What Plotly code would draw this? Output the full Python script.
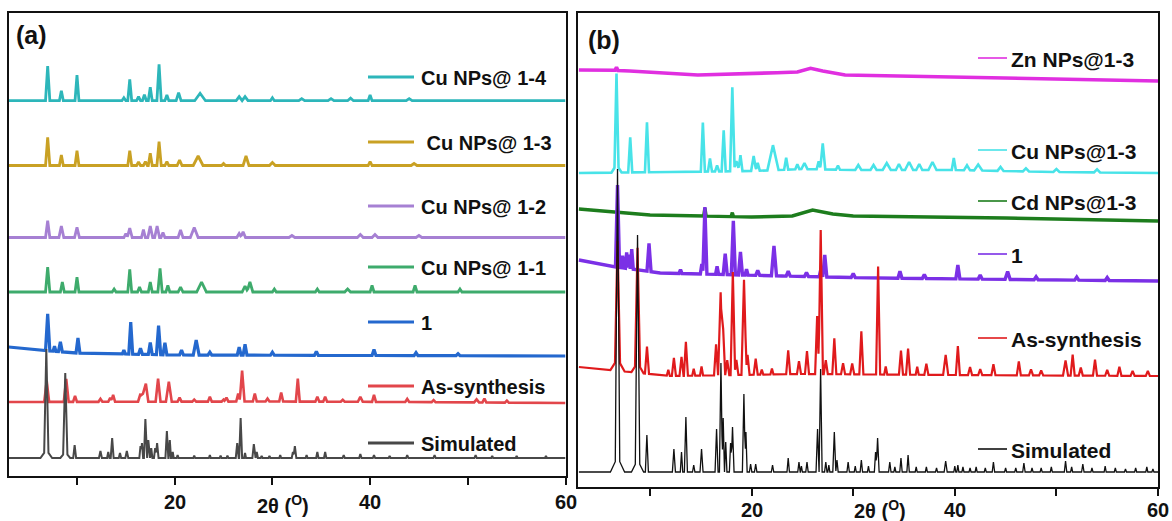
import numpy as np
import plotly.graph_objects as go

W, H = 1172, 521

# ---------------- DATA (2-theta in degrees, intensity in arbitrary units) ----------------
# Each peak: (2theta, height above local baseline, half width)
# Panel (a)
sim_a_peaks = [(6.86, 101, 0.22), (6.86, 8, 0.6), (8.8, 79, 0.22), (8.8, 6, 0.5), (9.76, 13, 0.15),
               (12.4, 7, 0.15), (13.2, 6, 0.12), (13.6, 20, 0.15), (14.4, 5, 0.12), (15.1, 7, 0.15),
               (16.5, 12, 0.12), (16.65, 15, 0.12), (17.0, 39, 0.15), (17.3, 18, 0.12), (17.6, 10, 0.12),
               (18.0, 10, 0.12), (18.2, 15, 0.15), (19.2, 27, 0.15), (19.5, 18, 0.12), (19.8, 6, 0.1),
               (20.3, 3, 0.1), (22.0, 2.5, 0.1), (23.6, 3, 0.1), (24.7, 2.5, 0.1), (25.4, 2.5, 0.1),
               (26.4, 15, 0.15), (26.75, 40, 0.15), (27.2, 5, 0.1), (28.1, 14, 0.15), (28.4, 6, 0.12),
               (28.9, 2, 0.1), (29.7, 2, 0.1), (30.8, 3, 0.1), (32.1, 6, 0.12), (32.3, 12, 0.15),
               (33.5, 3, 0.1), (34.6, 6, 0.12), (35.4, 6, 0.12), (37.3, 3, 0.12), (39.0, 4, 0.12),
               (40.4, 3, 0.12), (42.0, 2, 0.1), (43.8, 3, 0.12), (46.6, 3, 0.12), (50.8, 3, 0.12),
               (52.5, 2, 0.1), (55.0, 2, 0.1), (58.0, 2, 0.1)]
sim_a_base = ([3, 60], [0, 0])

as_a_peaks = [(6.9, 21, 0.25), (8.9, 23, 0.25), (9.8, 6, 0.2), (12.4, 3, 0.2), (13.4, 4, 0.2),
              (13.7, 7, 0.2), (16.5, 8, 0.25), (16.8, 10, 0.25), (17.05, 18, 0.25), (18.3, 23, 0.25),
              (19.4, 20, 0.3), (20.5, 4, 0.2), (22.0, 2, 0.2), (23.6, 5, 0.2), (25.0, 2, 0.2),
              (25.3, 4, 0.2), (26.5, 8, 0.2), (26.9, 31, 0.25), (28.2, 8, 0.2), (29.5, 3, 0.2),
              (30.9, 9, 0.2), (32.6, 23, 0.2), (34.6, 5, 0.2), (35.4, 5, 0.2), (37.2, 2, 0.2),
              (39.0, 5, 0.25), (40.4, 7, 0.2), (43.8, 3, 0.2), (46.5, 2, 0.2), (50.9, 3, 0.25),
              (51.7, 4, 0.2), (54.0, 2, 0.2)]
as_a_base = ([3, 30, 45, 60], [0, 0.5, 0, -1])

one_a_peaks = [(7.0, 37, 0.22), (7.7, 5, 0.15), (8.3, 10, 0.2), (10.1, 15, 0.2), (14.8, 4, 0.15),
               (15.5, 32, 0.2), (16.5, 6, 0.2), (17.5, 12, 0.2), (18.35, 29, 0.22), (19.0, 12, 0.2),
               (20.7, 5, 0.2), (22.2, 15, 0.3), (23.6, 3, 0.2), (26.6, 8, 0.2), (27.2, 11, 0.2),
               (30.0, 3, 0.2), (34.5, 4, 0.2), (40.4, 6, 0.2), (44.7, 3, 0.2), (49.0, 2, 0.2)]
one_a_base = ([3, 6, 10, 20, 60], [9, 6, 3, 1, 0])

cu11_peaks = [(7.0, 25, 0.22), (8.5, 10, 0.2), (10.0, 14.7, 0.2), (13.8, 3, 0.2), (15.4, 22.7, 0.2),
              (16.4, 5, 0.2), (17.5, 10, 0.2), (18.5, 23.7, 0.22), (19.3, 6.7, 0.2), (20.6, 5, 0.25),
              (22.75, 10, 0.5), (27.2, 6, 0.3), (27.7, 10, 0.3), (30.2, 3, 0.2), (34.6, 3, 0.2),
              (37.7, 3, 0.3), (40.2, 6.7, 0.2), (44.6, 6.7, 0.2), (49.2, 3, 0.2)]
cu11_base = ([3, 60], [0, 0])

cu12_peaks = [(7.0, 16.8, 0.22), (8.4, 11.5, 0.25), (10.0, 10.2, 0.25), (15.0, 4, 0.2), (15.4, 9.5, 0.25),
              (16.8, 8, 0.2), (17.5, 11.5, 0.25), (18.2, 11.5, 0.25), (18.8, 5, 0.2), (20.6, 7.5, 0.25),
              (22.0, 10, 0.4), (26.6, 4, 0.25), (27.0, 5.8, 0.25), (32.0, 2, 0.3), (39.0, 3, 0.3),
              (40.5, 3, 0.3), (45.0, 2, 0.3)]
cu12_base = ([3, 60], [0, 0])

cu13_peaks = [(7.0, 28.2, 0.22), (8.4, 10.5, 0.2), (10.0, 14.8, 0.2), (15.4, 14.8, 0.2), (16.3, 3.5, 0.2),
              (17.0, 4, 0.2), (17.5, 12.2, 0.2), (18.4, 23.8, 0.22), (19.2, 4, 0.2), (20.5, 5.5, 0.25),
              (22.4, 9.5, 0.5), (25.0, 2, 0.2), (27.3, 9.5, 0.3), (30.0, 3, 0.3), (40.0, 4, 0.2),
              (44.5, 2, 0.3)]
cu13_base = ([3, 60], [0, 0])

cu14_peaks = [(7.0, 34.7, 0.22), (8.4, 10, 0.2), (10.0, 25.7, 0.2), (14.8, 3, 0.2), (15.4, 21.4, 0.2),
              (16.3, 4, 0.2), (16.9, 6, 0.2), (17.5, 13.4, 0.2), (18.4, 36.4, 0.22), (19.2, 5.7, 0.2),
              (20.4, 8, 0.25), (22.6, 7.4, 0.55), (26.6, 4, 0.3), (27.2, 4, 0.3), (30.0, 3, 0.2),
              (33.0, 2, 0.3), (36.0, 2, 0.3), (38.0, 2.5, 0.3), (40.0, 5.7, 0.2), (44.0, 2, 0.3)]
cu14_base = ([3, 60], [0, 0])

# Panel (b)
sim_b_peaks = [(6.8, 288, 0.22), (6.8, 15, 0.7), (8.77, 225, 0.22), (8.77, 12, 0.6), (9.69, 37, 0.15),
               (12.35, 23, 0.15), (13.1, 20, 0.12), (13.53, 55, 0.15), (14.3, 7, 0.12), (15.07, 23, 0.15),
               (16.55, 43, 0.15), (16.98, 109, 0.15), (17.2, 54, 0.12), (17.45, 30, 0.12),
               (17.93, 29, 0.12), (18.12, 45, 0.15), (19.24, 78, 0.15), (19.44, 40, 0.12),
               (19.9, 8, 0.12), (20.4, 8, 0.12), (22.06, 7, 0.12), (23.6, 14, 0.12), (24.66, 10, 0.12),
               (24.9, 6, 0.1), (25.45, 10, 0.12), (26.49, 43, 0.15), (26.79, 103, 0.15), (27.3, 10, 0.12),
               (27.6, 7, 0.1), (28.14, 40, 0.15), (28.4, 12, 0.12), (29.5, 10, 0.12), (30.2, 6, 0.1),
               (30.8, 12, 0.12), (31.5, 6, 0.1), (32.2, 20, 0.12), (32.4, 34, 0.15), (33.6, 10, 0.12),
               (34.1, 5, 0.1), (34.7, 14, 0.12), (35.4, 17, 0.12), (36.2, 5, 0.1), (37.2, 5, 0.1),
               (38.2, 4, 0.1), (39.1, 11, 0.15), (40.0, 6, 0.1), (40.3, 7, 0.1), (40.8, 5, 0.1),
               (41.5, 4, 0.1), (42.1, 5, 0.1), (43.0, 4, 0.1), (43.8, 10, 0.12), (45.0, 4, 0.1),
               (46.0, 4, 0.1), (46.8, 9, 0.12), (47.6, 4, 0.1), (48.5, 4, 0.1), (49.5, 5, 0.1),
               (50.9, 11, 0.12), (51.5, 5, 0.1), (52.6, 8, 0.12), (53.5, 4, 0.1), (54.8, 6, 0.1),
               (55.8, 4, 0.1), (56.8, 3, 0.1), (57.8, 4, 0.1), (58.9, 5, 0.1), (59.5, 3, 0.1)]
sim_b_base = ([3, 60], [0, 0])

as_b_peaks = [(6.8, 118, 0.25), (6.8, 12, 0.7), (8.77, 115, 0.25), (8.77, 10, 0.6), (9.7, 27, 0.2),
              (11.8, 6, 0.15), (12.35, 18, 0.2), (13.1, 19, 0.2), (13.53, 34, 0.2), (14.3, 7, 0.15),
              (15.07, 9, 0.15), (16.5, 31, 0.2), (16.95, 83, 0.25), (17.2, 46, 0.2), (17.6, 15, 0.2),
              (18.15, 103, 0.22), (18.5, 15, 0.2), (19.25, 95, 0.25), (19.6, 20, 0.2), (20.4, 16, 0.2),
              (21.0, 5, 0.15), (22.0, 6, 0.15), (23.6, 24, 0.2), (24.66, 13, 0.2), (25.45, 23, 0.2),
              (26.45, 58, 0.2), (26.8, 144, 0.22), (27.3, 14, 0.2), (28.14, 36, 0.2), (29.0, 11, 0.2),
              (29.9, 11, 0.2), (30.8, 43, 0.2), (32.45, 108, 0.2), (33.2, 8, 0.15), (34.7, 24, 0.2),
              (35.4, 26, 0.2), (36.3, 8, 0.15), (37.2, 11, 0.2), (39.1, 20, 0.25), (40.3, 29, 0.2),
              (41.5, 8, 0.2), (42.5, 6, 0.2), (43.8, 11, 0.2), (46.3, 14, 0.2), (47.5, 6, 0.2),
              (48.5, 5, 0.2), (50.9, 15, 0.25), (51.6, 21, 0.2), (52.4, 8, 0.2), (53.8, 16, 0.2),
              (55.0, 6, 0.2), (56.2, 9, 0.2), (57.5, 5, 0.2), (59.0, 5, 0.2)]
as_b_base = ([3, 6, 9, 12, 25, 40, 60], [9, 6, 3, 0, 2, 1, 0])

one_b_peaks = [(6.8, 82, 0.2), (7.3, 12, 0.15), (7.7, 16, 0.12), (7.9, 14, 0.1), (8.2, 20, 0.15),
               (9.9, 28, 0.2), (13.0, 4, 0.15), (15.1, 10, 0.15), (15.4, 67, 0.2), (16.6, 8, 0.15),
               (17.4, 21, 0.2), (18.2, 54, 0.2), (18.9, 23, 0.2), (19.5, 6, 0.15), (20.6, 5, 0.2),
               (22.2, 30, 0.25), (23.6, 5, 0.2), (25.4, 4, 0.2), (26.8, 7, 0.15), (27.2, 22, 0.2),
               (30.0, 4, 0.2), (34.6, 7, 0.2), (37.0, 4, 0.2), (40.3, 14, 0.2), (42.5, 4, 0.2),
               (45.2, 8, 0.25), (48.0, 3, 0.2), (52.0, 3, 0.2), (55.0, 3, 0.2)]
one_b_base = ([3, 6, 11, 23, 32, 60], [21, 15, 8, 5, 3, 0])

cd_peaks = [(15.4, 8, 0.12), (18.1, 4, 0.12)]
cd_base = ([3, 10, 20, 24, 26, 28, 30, 45, 60], [12, 6, 4, 5, 11, 7, 5, 3, 0])

cu_b_peaks = [(6.7, 91, 0.2), (6.7, 8, 0.5), (8.05, 35, 0.2), (9.7, 50, 0.2), (15.2, 49, 0.2),
              (15.9, 13, 0.2), (16.6, 6, 0.2), (17.25, 41, 0.2), (18.1, 84, 0.22), (18.5, 10, 0.3),
              (18.9, 16, 0.2), (20.2, 15, 0.25), (20.6, 8, 0.2), (22.1, 25, 0.55), (23.4, 12, 0.2),
              (24.5, 5, 0.2), (25.2, 6, 0.3), (26.6, 8, 0.2), (27.0, 26, 0.25), (28.5, 4, 0.2),
              (30.5, 5, 0.3), (32.0, 5, 0.3), (33.3, 7, 0.4), (34.5, 6, 0.3), (35.5, 8, 0.4),
              (36.5, 6, 0.3), (37.8, 8, 0.4), (39.9, 12, 0.2), (41.2, 5, 0.3), (42.3, 6, 0.4),
              (44.5, 4, 0.3), (47.0, 3, 0.3), (50.0, 3, 0.3), (54.0, 3, 0.3)]
cu_b_base = ([3, 12, 20, 25, 30, 40, 50, 60], [0, 1, 2, 4, 3, 3, 1, 0])

zn_peaks = [(6.7, 3, 0.15)]
zn_base = ([3, 6, 8, 14.7, 22.5, 24.5, 25.8, 27, 29.2, 40.5, 51.7, 60],
           [11, 11, 10, 6, 8.3, 9, 12.7, 10, 6, 3.7, 1.7, 0])

# stacking offsets (vertical shift of each pattern)
offsets_a = {"Simulated": 18, "As-synthesis": 74, "1": 120, "Cu NPs@ 1-1": 184,
             "Cu NPs@ 1-2": 238.5, "Cu NPs@ 1-3": 310.5, "Cu NPs@ 1-4": 375.3}
offsets_b = {"Simulated": 15, "As-synthesis": 111, "1": 206, "Cd NPs@1-3": 266,
             "Cu NPs@1-3": 314, "Zn NPs@1-3": 406}

tick_values = [10, 20, 30, 40, 50, 60]
tick_labels = [20, 40, 60]

# ---------------- helpers ----------------
def profile(peaks, base):
    bx, by = base
    xs = set(bx)
    for c, h, w in peaks:
        xs.update([c - w, c, c + w])
    xs = np.array(sorted(x for x in xs if 3 <= x <= 60))
    y = np.interp(xs, bx, by)
    for c, h, w in peaks:
        y = y + np.interp(xs, [c - w, c, c + w], [0, h, 0], left=0, right=0)
    return xs, y

def px(x, y):
    return x / W, 1 - y / H

fig = go.Figure()

series_a = [  # drawn bottom layer first
    ("Cu NPs@ 1-4", cu14_peaks, cu14_base, "#2DB6BA", 2.8),
    ("Cu NPs@ 1-3", cu13_peaks, cu13_base, "#C9A124", 2.8),
    ("Cu NPs@ 1-2", cu12_peaks, cu12_base, "#A680D3", 2.8),
    ("Cu NPs@ 1-1", cu11_peaks, cu11_base, "#3EAB6C", 2.8),
    ("1", one_a_peaks, one_a_base, "#2468CE", 3.2),
    ("As-synthesis", as_a_peaks, as_a_base, "#E2464B", 2.6),
    ("Simulated", sim_a_peaks, sim_a_base, "#484848", 2.0),
]
series_b = [
    ("Zn NPs@1-3", zn_peaks, zn_base, "#E02FE0", 3.6),
    ("Cu NPs@1-3", cu_b_peaks, cu_b_base, "#48E3E8", 2.6),
    ("Cd NPs@1-3", cd_peaks, cd_base, "#1D7D1D", 3.4),
    ("1", one_b_peaks, one_b_base, "#7B30E6", 3.4),
    ("As-synthesis", as_b_peaks, as_b_base, "#E01A1C", 2.2),
    ("Simulated", sim_b_peaks, sim_b_base, "#111111", 1.3),
]

for name, pk, bs, col, lw in series_a:
    x, y = profile(pk, bs)
    fig.add_trace(go.Scatter(x=x, y=y + offsets_a[name], mode="lines", name=name,
                             line=dict(color=col, width=lw), xaxis="x", yaxis="y",
                             showlegend=False))
for name, pk, bs, col, lw in series_b:
    x, y = profile(pk, bs)
    fig.add_trace(go.Scatter(x=x, y=y + offsets_b[name], mode="lines", name=name,
                             line=dict(color=col, width=lw), xaxis="x2", yaxis="y2",
                             showlegend=False))

# legend entries (line sample + label), placed as in the original
legend_a_y = {"Cu NPs@ 1-4": 77, "Cu NPs@ 1-3": 142, "Cu NPs@ 1-2": 206, "Cu NPs@ 1-1": 267,
              "1": 322, "As-synthesis": 386, "Simulated": 443}
legend_b_y = {"Zn NPs@1-3": 58, "Cu NPs@1-3": 150, "Cd NPs@1-3": 201, "1": 254,
              "As-synthesis": 338, "Simulated": 449}
label_a = {"Cu NPs@ 1-3": " Cu NPs@ 1-3"}

TXT = "#111111"
shapes, annots = [], []
for name, pk, bs, col, lw in series_a:
    yy = legend_a_y[name]
    x0, y0 = px(368, yy); x1, _ = px(414, yy)
    shapes.append(dict(type="line", xref="paper", yref="paper", x0=x0, x1=x1, y0=y0, y1=y0,
                       line=dict(color=col, width=3)))
    tx, ty = px(419, yy + 1)
    annots.append(dict(xref="paper", yref="paper", x=tx, y=ty, xanchor="left", yanchor="middle",
                       text="<b>%s</b>" % label_a.get(name, name), showarrow=False,
                       font=dict(size=20, color=TXT)))
for name, pk, bs, col, lw in series_b:
    yy = legend_b_y[name]
    x0, y0 = px(978, yy); x1, _ = px(1007, yy)
    shapes.append(dict(type="line", xref="paper", yref="paper", x0=x0, x1=x1, y0=y0, y1=y0,
                       line=dict(color=col, width=1.6)))
    tx, ty = px(1009, yy + 1)
    annots.append(dict(xref="paper", yref="paper", x=tx, y=ty, xanchor="left", yanchor="middle",
                       text="<b>%s</b>" % name, showarrow=False,
                       font=dict(size=21, color=TXT)))

# panel labels and axis titles
for txt, (X, Y) in [("(a)", (31, 35)), ("(b)", (604, 40))]:
    ax, ay = px(X, Y)
    annots.append(dict(xref="paper", yref="paper", x=ax, y=ay, xanchor="center", yanchor="middle",
                       text="<b>%s</b>" % txt, showarrow=False, font=dict(size=25, color=TXT)))
for X, Y in [(283, 504), (880, 509)]:
    ax, ay = px(X, Y)
    annots.append(dict(xref="paper", yref="paper", x=ax, y=ay, xanchor="center", yanchor="middle",
                       text="<b>2θ (<sup>O</sup>)</b>", showarrow=False,
                       font=dict(size=20, color=TXT)))

# tick labels, placed on the data axis positions (x in degrees)
for xref, ypix in [("x", 502), ("x2", 510)]:
    for v in tick_labels:
        annots.append(dict(xref=xref, yref="paper", x=v, y=1 - ypix / H, xanchor="center",
                           yanchor="middle", text="<b>%d</b>" % v, showarrow=False,
                           font=dict(size=20, color=TXT)))

axis_common = dict(showline=True, linecolor="#111111", linewidth=1.5, mirror=True,
                   showgrid=False, zeroline=False, automargin=False)
xcommon = dict(axis_common, tickmode="array", tickvals=tick_values, showticklabels=False,
               ticks="outside", ticklen=7, tickwidth=1.5, tickcolor="#111111")
ycommon = dict(axis_common, showticklabels=False, ticks="")

fig.update_layout(
    width=W, height=H, autosize=False,
    margin=dict(l=0, r=0, t=0, b=0, pad=0),
    paper_bgcolor="white", plot_bgcolor="white",
    font=dict(family="Liberation Sans, Arial, sans-serif", color=TXT),
    xaxis=dict(xcommon, domain=[8.5 / W, 565.5 / W], range=[2.99, 60], anchor="y"),
    yaxis=dict(ycommon, domain=[1 - 476 / H, 1 - 13 / H], range=[0, 463], anchor="x"),
    xaxis2=dict(xcommon, domain=[578 / W, 1158 / W], range=[2.91, 60], anchor="y2"),
    yaxis2=dict(ycommon, domain=[1 - 487 / H, 1 - 13 / H], range=[0, 474], anchor="x2"),
    shapes=shapes, annotations=annots,
)

fig.write_html("out.html", config={"displayModeBar": False},
               post_script="document.body.style.margin='0';document.body.style.overflow='hidden';")
